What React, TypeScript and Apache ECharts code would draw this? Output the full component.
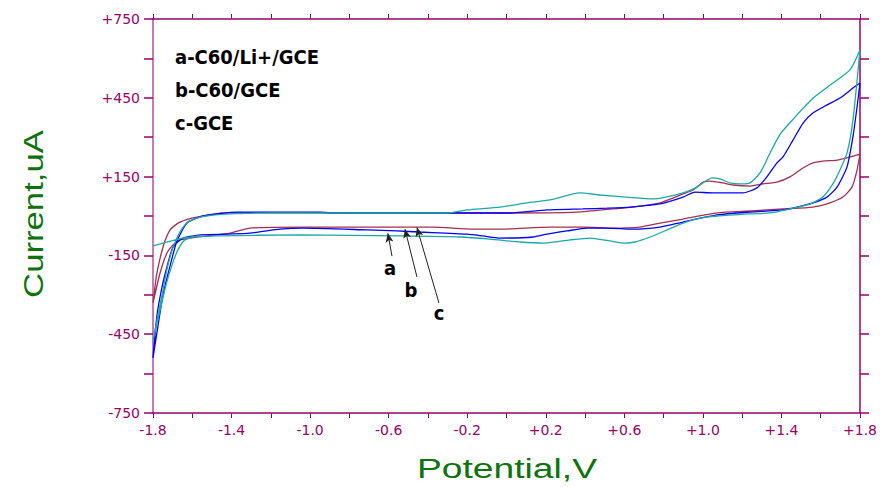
import React, { useEffect, useRef } from "react";
import * as echarts from "echarts";

// Potential (V) vs current (uA) cyclic voltammograms
const legendLabels = ["a-C60/Li+/GCE", "b-C60/GCE", "c-GCE"];
const curveLabels = ["a", "b", "c"];

const curveA: [number, number][] = [
  [-1.56, -74], [-1.637, -91], [-1.673, -129], [-1.703, -186], [-1.734, -263], [-1.764, -358], [-1.79, -442], [-1.8, -472],
  [-1.785, -415], [-1.754, -301], [-1.724, -186], [-1.693, -110], [-1.663, -61], [-1.622, -23], [-1.561, -4], [-1.408, 8],
  [-1.204, 11.5], [-0.303, 11.5], [-0.201, 23], [-0.033, 34], [0.104, 50], [0.221, 61], [0.374, 88], [0.476, 80],
  [0.613, 72], [0.746, 65], [0.899, 88], [0.97, 110], [1.046, 145], [1.087, 141], [1.138, 126], [1.204, 122],
  [1.24, 126], [1.291, 164], [1.342, 240], [1.392, 310], [1.459, 368], [1.56, 448], [1.662, 506],
  [1.749, 556], [1.8, 632],
  [1.764, 365], [1.734, 240], [1.698, 175], [1.662, 122], [1.611, 72], [1.56, 50], [1.53, 42], [1.443, 27],
  [1.342, 11.5], [1.24, 8], [1.072, 0], [0.986, -8], [0.899, -27], [0.818, -53], [0.731, -80], [0.654, -99],
  [0.603, -103], [0.527, -95], [0.425, -84], [0.323, -91], [0.196, -103], [0.069, -99], [-0.084, -88], [-0.237, -80],
  [-0.542, -76], [-1.051, -72], [-1.474, -76], [-1.647, -84], [-1.8, -114],
];

const curveB: [number, number][] = [
  [-1.561, -72], [-1.647, -84], [-1.698, -118], [-1.729, -194], [-1.754, -270], [-1.78, -380], [-1.8, -540],
  [-1.775, -420], [-1.749, -300], [-1.713, -190], [-1.678, -95], [-1.627, -27], [-1.545, 0], [-1.372, 15],
  [-0.95, 15], [-0.9, 11.5], [0.018, 11.5], [0.206, 23], [0.389, 27], [0.512, 30], [0.629, 34], [0.781, 46],
  [0.899, 72], [0.96, 91], [1.051, 88], [1.204, 88], [1.275, 107], [1.326, 149], [1.377, 202], [1.408, 225],
  [1.459, 289], [1.51, 354], [1.56, 392], [1.632, 423], [1.698, 449], [1.764, 487], [1.8, 506],
  [1.785, 415], [1.764, 301], [1.734, 187], [1.683, 110], [1.632, 72], [1.56, 50], [1.479, 34], [1.408, 23],
  [1.24, 15], [1.072, 4], [0.899, -23], [0.781, -42], [0.644, -50], [0.512, -46], [0.41, -46], [0.308, -57],
  [0.206, -69], [0.135, -80], [-0.033, -84], [-0.12, -76], [-0.201, -69], [-0.441, -61], [-0.558, -57],
  [-0.71, -53], [-1.036, -46], [-1.153, -50], [-1.306, -65], [-1.561, -72],
];

const curveC: [number, number][] = [
  [-1.663, -91], [-1.698, -110], [-1.729, -141], [-1.764, -217], [-1.8, -331],
  [-1.792, -282], [-1.78, -217], [-1.749, -118], [-1.713, -53], [-1.663, -23], [-1.576, -4], [-1.423, 11.5],
  [-1.051, 13], [0.018, 11.5], [0.359, 15], [0.542, 27], [0.644, 34], [0.781, 50], [0.899, 84], [0.95, 99],
  [1.001, 129], [1.036, 133], [1.102, 126], [1.153, 118], [1.24, 114], [1.306, 122], [1.377, 129], [1.443, 149],
  [1.51, 183], [1.56, 202], [1.611, 209], [1.683, 213], [1.749, 225], [1.8, 236],
  [1.785, 175], [1.759, 110], [1.713, 72], [1.647, 50], [1.56, 34], [1.408, 27], [1.24, 19], [1.072, 11.5],
  [0.899, -11.5], [0.781, -27], [0.68, -42], [0.542, -46], [0.41, -42], [0.221, -42], [-0.033, -50],
  [-0.171, -50], [-0.374, -42], [-1.036, -42], [-1.306, -46], [-1.408, -65], [-1.576, -80], [-1.663, -91],
];

// arrow annotations: [tail, tip] in data coordinates
const arrowA: [number, number][] = [[-0.583, -153], [-0.604, -66]];
const arrowB: [number, number][] = [[-0.456, -232], [-0.517, -50]];
const arrowC: [number, number][] = [[-0.344, -331], [-0.456, -44]];

const AXIS = "#990066";
const GREEN = "#0f720f";

export default function App() {
  const ref = useRef<HTMLDivElement>(null);
  useEffect(() => {
    if (!ref.current) return;
    const chart = echarts.init(ref.current, undefined, { renderer: "svg" });
    const xFmt = (v: number) => {
      const k = Math.round((v + 1.8) / 0.2);
      if (k % 2 !== 0) return "";
      return v > 0.001 ? "+" + v.toFixed(1) : v.toFixed(1);
    };
    const yFmt = (v: number) => {
      const k = Math.round((v + 750) / 150);
      if (k % 2 !== 0) return "";
      return v > 0 ? "+" + v : String(v);
    };
    const xBase = {
      type: "value" as const,
      min: -1.8,
      max: 1.8,
      interval: 0.2,
      splitLine: { show: false },
      axisLine: { show: true, onZero: false, lineStyle: { color: AXIS, width: 1.5 } },
      axisTick: { show: true, length: 5, inside: false, lineStyle: { color: AXIS } },
    };
    const yBase = {
      type: "value" as const,
      min: -750,
      max: 750,
      interval: 150,
      splitLine: { show: false },
      axisTick: { show: true, length: 9, inside: false, lineStyle: { color: AXIS, width: 1.5 } },
    };
    const lineSeries = (name: string, data: [number, number][], color: string, extra: any = {}) => ({
      name,
      type: "line",
      data,
      showSymbol: false,
      symbol: "none",
      smooth: 0.2,
      lineStyle: { color, width: 1.3 },
      itemStyle: { color },
      z: 2,
      ...extra,
    });
    const arrowLine = (a: [number, number][]) => [{ coord: a[0] }, { coord: a[1] }];
    chart.setOption({
      animation: false,
      backgroundColor: "#ffffff",
      grid: { left: 153, right: 20, top: 19, bottom: 74 },
      xAxis: [
        {
          ...xBase,
          position: "bottom",
          axisLabel: {
            show: true,
            margin: 10,
            color: AXIS,
            fontSize: 14,
            fontFamily: "DejaVu Sans",
            formatter: xFmt,
            showMaxLabel: true,
            showMinLabel: true,
          },
        },
        { ...xBase, position: "top", axisLabel: { show: false } },
      ],
      yAxis: [
        {
          ...yBase,
          position: "left",
          axisLine: { show: true, onZero: false, lineStyle: { color: "#c77db3", width: 2 } },
          axisLabel: {
            show: true,
            margin: 13,
            color: AXIS,
            fontSize: 14,
            fontFamily: "DejaVu Sans",
            formatter: yFmt,
            showMaxLabel: true,
            showMinLabel: true,
          },
        },
        {
          ...yBase,
          position: "right",
          axisLine: { show: true, onZero: false, lineStyle: { color: AXIS, width: 1.5 } },
          axisLabel: { show: false },
        },
      ],
      series: [
        lineSeries(legendLabels[2], curveC, "#a3304f"),
        lineSeries(legendLabels[1], curveB, "#0000ff", {
          markLine: {
            silent: true,
            symbol: ["none", "arrow"],
            symbolSize: [6, 9],
            label: { show: false },
            lineStyle: { color: "#222222", width: 1, type: "solid" },
            data: [arrowLine(arrowA), arrowLine(arrowB), arrowLine(arrowC)],
          },
        }),
        lineSeries(legendLabels[0], curveA, "#1ea7a7"),
      ],
      graphic: [
        ...legendLabels.map((t, i) => ({
          type: "text",
          x: 175,
          y: 57 + i * 33,
          style: {
            text: t,
            fill: "#000000",
            font: "bold 20px 'DejaVu Sans Condensed', 'DejaVu Sans'",
            textAlign: "left",
            textVerticalAlign: "middle",
            align: "left",
            verticalAlign: "middle",
          },
        })),
        ...curveLabels.map((t, i) => ({
          type: "text",
          x: [390, 411, 439][i],
          y: [268, 290, 313][i],
          style: {
            text: t,
            fill: "#000000",
            font: "bold 20px 'DejaVu Sans Condensed', 'DejaVu Sans'",
            textAlign: "center",
            textVerticalAlign: "middle",
            align: "center",
            verticalAlign: "middle",
          },
        })),
        {
          type: "text",
          x: 33,
          y: 214,
          rotation: Math.PI / 2,
          scaleX: 1.24,
          style: {
            text: "Current,uA",
            fill: GREEN,
            font: "28px 'Liberation Sans', Arial",
            textAlign: "center",
            textVerticalAlign: "middle",
            align: "center",
            verticalAlign: "middle",
          },
        },
        {
          type: "text",
          x: 507,
          y: 468,
          scaleX: 1.33,
          style: {
            text: "Potential,V",
            fill: GREEN,
            font: "28px 'Liberation Sans', Arial",
            textAlign: "center",
            textVerticalAlign: "middle",
            align: "center",
            verticalAlign: "middle",
          },
        },
      ],
    });
    return () => chart.dispose();
  }, []);
  return <div ref={ref} style={{ position: "absolute", left: 0, top: 0, width: 880, height: 487 }} />;
}
